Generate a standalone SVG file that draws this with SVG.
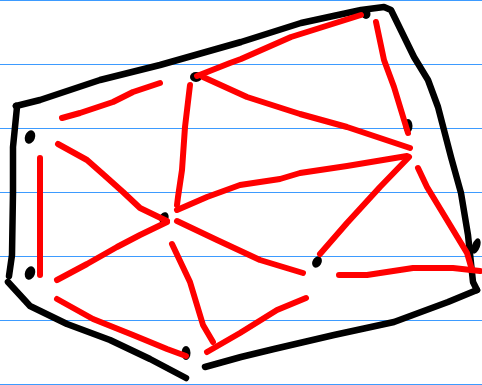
<svg xmlns="http://www.w3.org/2000/svg" width="482" height="385" viewBox="0 0 482 385">
<style>
.rule{stroke:#3d9bff;stroke-width:1.2}
.blk{fill:none;stroke:#000;stroke-width:6.5;stroke-linecap:round;stroke-linejoin:round}
.red{fill:none;stroke:#ff0000;stroke-width:6;stroke-linecap:round;stroke-linejoin:round}
.dot{fill:#000}
</style>
<rect width="482" height="385" fill="#fff"/>
<g id="paper">
<line class="rule" x1="0" y1="0.5" x2="482" y2="0.5"/>
<line class="rule" x1="0" y1="64.5" x2="482" y2="64.5"/>
<line class="rule" x1="0" y1="128.5" x2="482" y2="128.5"/>
<line class="rule" x1="0" y1="192.5" x2="482" y2="192.5"/>
<line class="rule" x1="0" y1="256.5" x2="482" y2="256.5"/>
<line class="rule" x1="0" y1="320.5" x2="482" y2="320.5"/>
<line class="rule" x1="0" y1="384.5" x2="482" y2="384.5"/>
</g>
<g id="outline">
<polyline class="blk" points="16,106 40,100 100,80 160,65 241,42 301,23 361,10 384,7 391,10 414,57 428,80 438,107 451,157 461,193 468,235 473,282 477,290"/>
<polyline class="blk" points="16,106 17,107 13,147 13,192 12,255 9,276"/>
<polyline class="blk" points="8,282 30,306 67,324 110,340 150,359 186,378"/>
<polyline class="blk" points="477,290 448,302 394,322 334,335 274,349 241,357 205,367"/>
</g>
<g id="points">
<ellipse class="dot" cx="30" cy="137" rx="5" ry="7" transform="rotate(20 30 137)"/>
<ellipse class="dot" cx="30" cy="273" rx="5" ry="7" transform="rotate(20 30 273)"/>
<ellipse class="dot" cx="196" cy="77" rx="6" ry="5"/>
<ellipse class="dot" cx="408" cy="126" rx="4.5" ry="7"/>
<ellipse class="dot" cx="476" cy="246" rx="4" ry="8" transform="rotate(20 476 246)"/>
<ellipse class="dot" cx="317" cy="262" rx="4.5" ry="6" transform="rotate(30 317 262)"/>
<ellipse class="dot" cx="186" cy="353" rx="4.5" ry="7"/>
<ellipse class="dot" cx="164" cy="218" rx="4.5" ry="6" transform="rotate(20 164 218)"/>
<ellipse class="dot" cx="366" cy="14" rx="4.5" ry="5"/>
</g>
<g id="edges">
<polyline class="red" points="62,118 80,113 113,102 133,92 160,83"/>
<polyline class="red" points="58,144 87,160 104,175 123,192 140,208 167,221"/>
<polyline class="red" points="40,158 40,275"/>
<polyline class="red" points="57,280 87,264 117,247 140,235 167,222"/>
<polyline class="red" points="57,299 93,319 133,335 167,349 186,356"/>
<polyline class="red" points="172,244 190,282 203,325 213,342"/>
<polyline class="red" points="207,352 240,333 277,310 306,298"/>
<polyline class="red" points="177,221 217,240 260,260 303,273"/>
<polyline class="red" points="177,210 207,197 240,185 280,179 300,173 347,166 407,156"/>
<polyline class="red" points="190,85 185,127 182,170 178,197 177,205"/>
<polyline class="red" points="197,76 230,63 241,59 291,37 361,15"/>
<polyline class="red" points="203,77 247,97 300,114 347,127 410,148"/>
<polyline class="red" points="376,22 384,60 394,87 408,133"/>
<polyline class="red" points="409,157 380,187 347,223 320,254"/>
<polyline class="red" points="418,168 427,187 447,220 467,253 472,270"/>
<polyline class="red" points="339,275 367,275 413,268 453,268 480,271"/>
</g>
</svg>
